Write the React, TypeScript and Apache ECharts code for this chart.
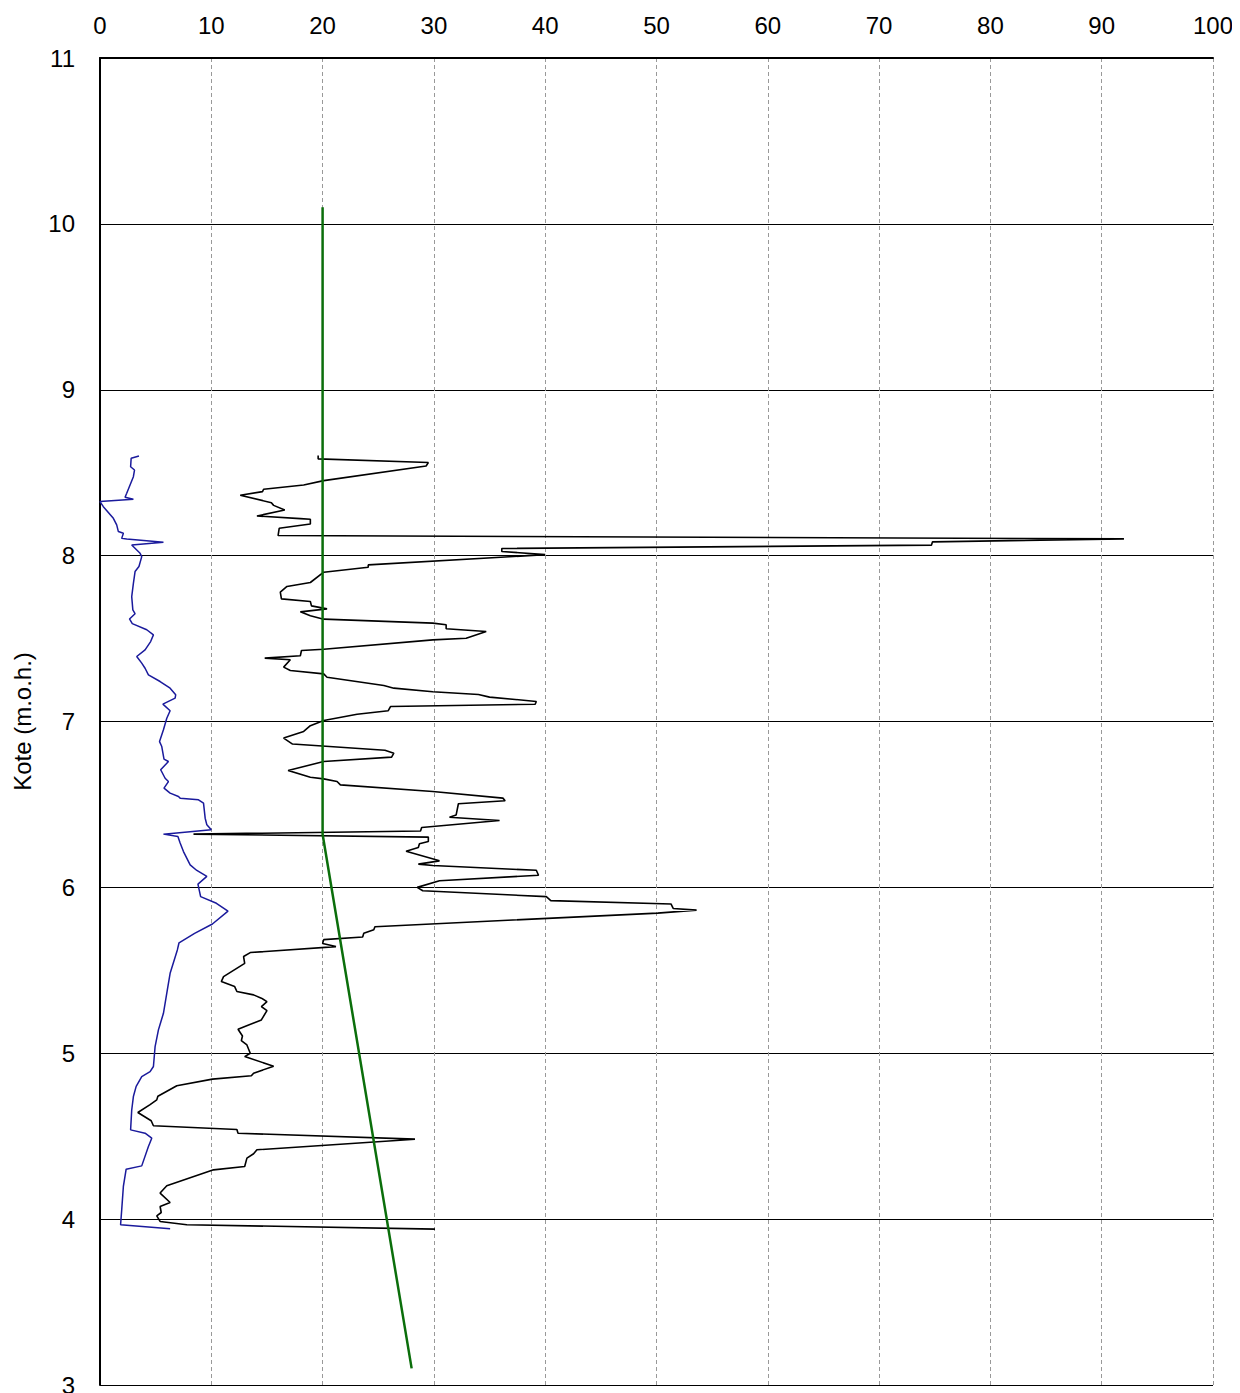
import React, { useEffect, useRef } from "react";
import * as echarts from "echarts";

const xTicks = { min: 0, max: 100, interval: 10 };
const yTicks = { min: 3, max: 11, interval: 1 };
const yAxisName = "Kote (m.o.h.)";

// black curve [value, kote]
const blackSeries: number[][] = [
  [19.6, 8.603], [19.6, 8.583], [29.5, 8.561], [29.3, 8.54], [20.1, 8.452], [18.3, 8.426],
  [14.7, 8.4], [14.6, 8.386], [12.6, 8.364], [15.4, 8.319], [15.6, 8.303], [16.6, 8.275],
  [14.1, 8.239], [18.0, 8.223], [18.9, 8.219], [18.9, 8.191], [16.1, 8.165], [16.0, 8.121],
  [92.0, 8.101], [74.8, 8.083], [74.7, 8.063], [36.1, 8.043], [36.1, 8.025], [40.0, 8.006],
  [24.1, 7.944], [24.1, 7.93], [20.1, 7.9], [18.9, 7.838], [16.8, 7.814], [16.2, 7.78],
  [16.3, 7.739], [18.9, 7.723], [19.0, 7.697], [20.4, 7.679], [18.0, 7.661], [18.9, 7.637],
  [20.1, 7.617], [29.9, 7.593], [31.1, 7.583], [31.1, 7.559], [34.7, 7.543], [32.9, 7.502],
  [29.9, 7.492], [20.1, 7.436], [18.1, 7.428], [18.0, 7.396], [14.8, 7.382], [17.1, 7.372],
  [16.5, 7.328], [17.1, 7.307], [20.1, 7.287], [20.4, 7.267], [25.5, 7.217], [26.4, 7.201],
  [29.9, 7.179], [34.0, 7.163], [35.0, 7.147], [39.2, 7.121], [39.1, 7.104], [26.1, 7.09],
  [25.9, 7.065], [23.1, 7.044], [20.1, 7.006], [18.9, 6.975], [18.3, 6.94], [16.5, 6.9],
  [17.3, 6.864], [25.6, 6.827], [26.4, 6.809], [26.2, 6.785], [20.1, 6.759], [16.9, 6.705],
  [18.9, 6.664], [20.1, 6.654], [21.3, 6.638], [21.6, 6.618], [29.9, 6.578], [36.2, 6.538],
  [36.4, 6.522], [32.2, 6.504], [32.0, 6.437], [31.4, 6.423], [35.9, 6.403], [28.9, 6.361],
  [28.8, 6.34], [8.4, 6.321], [29.5, 6.303], [29.5, 6.277], [28.7, 6.263], [28.6, 6.24],
  [27.5, 6.218], [30.5, 6.16], [28.6, 6.14], [29.9, 6.132], [39.2, 6.103], [39.4, 6.073],
  [30.5, 6.04], [28.5, 6.0], [29.0, 5.98], [40.1, 5.944], [40.5, 5.92], [51.3, 5.9],
  [51.5, 5.873], [53.6, 5.863], [50.1, 5.845], [24.7, 5.763], [24.6, 5.745], [23.7, 5.723],
  [23.6, 5.701], [20.1, 5.685], [20.0, 5.662], [21.2, 5.643], [13.5, 5.607], [12.9, 5.583],
  [13.0, 5.542], [11.1, 5.462], [10.9, 5.432], [12.1, 5.402], [12.3, 5.372], [13.8, 5.352],
  [14.5, 5.332], [15.0, 5.311], [14.5, 5.281], [15.0, 5.257], [14.5, 5.201], [12.4, 5.145],
  [12.8, 5.104], [12.7, 5.076], [13.2, 5.05], [13.5, 5.0], [13.0, 4.98], [15.6, 4.922],
  [13.8, 4.88], [13.6, 4.864], [10.1, 4.844], [6.9, 4.804], [5.2, 4.741], [5.1, 4.719],
  [4.5, 4.69], [3.4, 4.643], [4.6, 4.593], [4.8, 4.563], [12.3, 4.54], [12.4, 4.518],
  [28.3, 4.482], [14.1, 4.418], [13.8, 4.394], [13.2, 4.368], [13.0, 4.317], [10.2, 4.297],
  [6.0, 4.201], [5.4, 4.157], [6.3, 4.1], [5.4, 4.076], [5.5, 4.04], [5.1, 4.02],
  [5.4, 3.986], [7.8, 3.966], [30.1, 3.94],
];

// blue curve [value, kote]
const blueSeries: number[][] = [
  [3.5, 8.601], [2.8, 8.587], [2.75, 8.536], [3.1, 8.516], [3.0, 8.476], [2.4, 8.376],
  [2.25, 8.352], [3.0, 8.34], [0.0, 8.326], [0.3, 8.295], [1.2, 8.225], [1.5, 8.185],
  [1.65, 8.145], [2.1, 8.135], [1.95, 8.104], [2.4, 8.1], [5.7, 8.08], [2.85, 8.064],
  [3.6, 8.014], [3.75, 7.994], [3.5, 7.934], [3.15, 7.904], [3.0, 7.833], [2.85, 7.753],
  [2.95, 7.673], [3.15, 7.65], [2.65, 7.618], [2.9, 7.59], [4.2, 7.553], [4.8, 7.522],
  [4.55, 7.482], [4.05, 7.432], [3.3, 7.392], [3.75, 7.352], [4.05, 7.321], [4.35, 7.281],
  [5.4, 7.241], [6.3, 7.201], [6.8, 7.161], [6.75, 7.141], [5.65, 7.105], [6.3, 7.065],
  [6.0, 7.02], [5.7, 6.95], [5.35, 6.879], [5.55, 6.849], [5.75, 6.773], [6.15, 6.759],
  [5.45, 6.709], [5.85, 6.658], [6.15, 6.638], [5.75, 6.598], [6.3, 6.568], [7.05, 6.548],
  [7.2, 6.538], [8.85, 6.528], [9.3, 6.508], [9.45, 6.417], [9.6, 6.377], [10.0, 6.347],
  [5.7, 6.321], [7.0, 6.307], [7.2, 6.267], [7.5, 6.216], [8.1, 6.136], [8.7, 6.102],
  [9.6, 6.066], [8.8, 6.02], [9.04, 5.944], [10.46, 5.904], [11.5, 5.857], [10.1, 5.779],
  [8.5, 5.723], [7.1, 5.666], [6.95, 5.623], [6.3, 5.482], [6.05, 5.382], [5.7, 5.241],
  [5.25, 5.141], [4.95, 5.04], [4.8, 4.92], [4.5, 4.889], [3.75, 4.859], [3.25, 4.8],
  [3.0, 4.739], [2.85, 4.658], [2.75, 4.538], [4.05, 4.518], [4.65, 4.488], [4.35, 4.438],
  [3.75, 4.321], [2.35, 4.301], [2.1, 4.197], [1.95, 4.056], [1.85, 3.966], [6.3, 3.942],
];

// green reference line [value, kote]
const greenSeries: number[][] = [
  [20, 10.1], [20, 6.32], [28, 3.1],
];

const FONT = "'Liberation Sans', Arial, sans-serif";

export default function App() {
  const ref = useRef<HTMLDivElement>(null);
  useEffect(() => {
    if (!ref.current) return;
    const chart = echarts.init(ref.current, null, { renderer: "svg" });
    chart.setOption({
      animation: false,
      backgroundColor: "#ffffff",
      grid: {
        left: 92,
        top: 50,
        right: 19,
        bottom: 8,
        containLabel: false,
        outerBoundsMode: "none",
      },
      xAxis: {
        type: "value",
        position: "top",
        min: xTicks.min,
        max: xTicks.max,
        interval: xTicks.interval,
        axisLine: { show: true, onZero: false, lineStyle: { color: "#000", width: 2 } },
        axisTick: { show: false },
        axisLabel: { color: "#000", fontSize: 24, fontFamily: FONT, margin: 21 },
        splitLine: { show: true, lineStyle: { color: "#999", width: 1, type: [4, 3] } },
      },
      yAxis: {
        type: "value",
        min: yTicks.min,
        max: yTicks.max,
        interval: yTicks.interval,
        name: yAxisName,
        nameLocation: "middle",
        nameGap: 66,
        nameTextStyle: { color: "#000", fontSize: 24, fontFamily: FONT },
        axisLine: { show: true, onZero: false, lineStyle: { color: "#000", width: 2 } },
        axisTick: { show: false },
        axisLabel: { color: "#000", fontSize: 24, fontFamily: FONT, margin: 25 },
        splitLine: { show: true, lineStyle: { color: "#000", width: 1 } },
      },
      series: [
        {
          type: "line",
          data: blueSeries,
          showSymbol: false,
          lineStyle: { color: "#1a1a9c", width: 1.5 },
          z: 3,
        },
        {
          type: "line",
          data: blackSeries,
          showSymbol: false,
          lineStyle: { color: "#000", width: 1.6 },
          z: 4,
        },
        {
          type: "line",
          data: greenSeries,
          showSymbol: false,
          lineStyle: { color: "#0b6e0b", width: 2.5 },
          z: 5,
        },
      ],
    });
    return () => chart.dispose();
  }, []);
  return (
    <div
      ref={ref}
      style={{ position: "fixed", left: 8, top: 8, width: 1224, height: 1385 }}
    />
  );
}
